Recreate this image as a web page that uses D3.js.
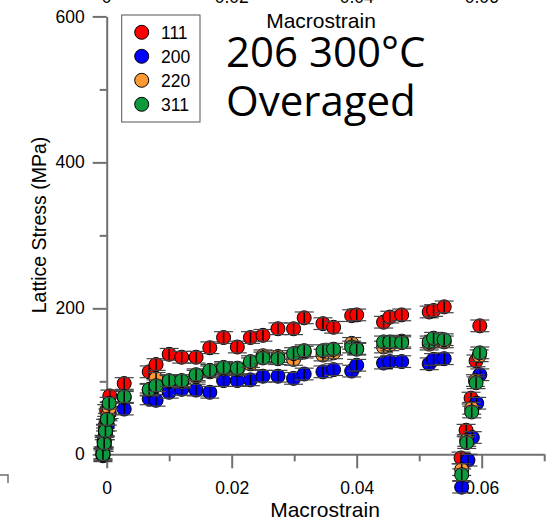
<!DOCTYPE html>
<html>
<head>
<meta charset="utf-8">
<script src="https://cdn.jsdelivr.net/npm/d3@7"></script>
<style>
  body { margin: 0; background: #fff; }
  svg { display: block; font-family: "Liberation Sans", Arial, sans-serif; }
  .axis path, .axis line { stroke: #707070; stroke-width: 2; }
  .axis text { font-size: 17.5px; fill: #000; font-family: "Liberation Sans", Arial, sans-serif; }
</style>
</head>
<body>
<script>
// data
var strain111 = [-0.0006, -0.0004, -0.0002, 0.0000, 0.0005, 0.0028, 0.0068, 0.0079, 0.0100, 0.0120, 0.0143, 0.0165, 0.0187, 0.0209, 0.0230, 0.0250, 0.0274, 0.0299, 0.0316, 0.0346, 0.0363, 0.0392, 0.0400, 0.0443, 0.0453, 0.0472, 0.0516, 0.0523, 0.0540, 0.0597, 0.0591, 0.0583, 0.0575, 0.0567];
var stress111 = [2, 18, 40, 60, 80, 97, 113, 123, 137, 133, 133, 146, 160, 147, 160, 163, 172, 172, 187, 179, 174, 190, 191, 181, 188, 191, 195, 197, 202, 176, 128, 77, 33, -5];

var strain200 = [-0.0006, -0.0004, -0.0002, 0.0001, 0.0004, 0.0028, 0.0068, 0.0079, 0.0100, 0.0120, 0.0143, 0.0165, 0.0187, 0.0209, 0.0230, 0.0250, 0.0274, 0.0299, 0.0316, 0.0346, 0.0363, 0.0392, 0.0400, 0.0443, 0.0453, 0.0472, 0.0516, 0.0523, 0.0540, 0.0597, 0.0592, 0.0585, 0.0578, 0.0568];
var stress200 = [-2, 12, 28, 40, 57, 62, 76, 74, 85, 89, 88, 85, 101, 101, 102, 107, 107, 104, 110, 113, 116, 114, 122, 125, 127, 127, 124, 130, 131, 109, 70, 23, -8, -45];

var strain220 = [-0.0006, -0.0004, -0.0002, 0.0002, 0.0004, 0.0028, 0.0068, 0.0079, 0.0100, 0.0120, 0.0143, 0.0165, 0.0187, 0.0209, 0.0230, 0.0250, 0.0274, 0.0299, 0.0316, 0.0346, 0.0363, 0.0392, 0.0400, 0.0443, 0.0453, 0.0472, 0.0516, 0.0523, 0.0540, 0.0596, 0.0590, 0.0584, 0.0576, 0.0568];
var stress220 = [0, 17, 33, 54, 63, 78, 88, 104, 100, 99, 107, 113, 117, 116, 124, 135, 134, 130, 140, 136, 139, 152, 145, 147, 150, 155, 151, 155, 154, 135, 101, 63, 19, -21];

var strain311 = [-0.0006, -0.0004, -0.0002, 0.0001, 0.0004, 0.0028, 0.0068, 0.0079, 0.0100, 0.0120, 0.0143, 0.0165, 0.0187, 0.0209, 0.0230, 0.0250, 0.0274, 0.0299, 0.0316, 0.0346, 0.0363, 0.0392, 0.0400, 0.0443, 0.0453, 0.0472, 0.0516, 0.0523, 0.0540, 0.0597, 0.0591, 0.0584, 0.0576, 0.0568];
var stress311 = [0, 15, 32, 48, 70, 79, 89, 94, 101, 101, 109, 115, 119, 118, 127, 132, 131, 138, 142, 142, 144, 147, 144, 154, 154, 153, 154, 159, 157, 139, 98, 58, 16, -28];

var stressErr = 8;   // MPa, drawn as vertical bars

var seriesNames = ["111", "200", "220", "311"];
var seriesColors = ["#ff0000", "#0000ff", "#ff9933", "#0d9a3f"];
var seriesStrain = [strain111, strain200, strain220, strain311];
var seriesStress = [stress111, stress200, stress220, stress311];

var xTicks = [0, 0.02, 0.04, 0.06];
var xMinor = [0.01, 0.03, 0.05, 0.07];
var yTicks = [0, 200, 400, 600];
var yMinor = [100, 300, 500];

var width = 547, height = 520;

var svg = d3.select("body").append("svg")
    .attr("width", width)
    .attr("height", height);

var x = d3.scaleLinear().domain([0, 0.07]).range([106.7, 544.2]);
var y = d3.scaleLinear().domain([0, 600]).range([454.3, 16.4]);

var fmtX = function (d) { return d === 0 ? "0" : d.toFixed(2); };

// y axis
svg.append("g").attr("class", "axis")
    .attr("transform", "translate(" + x(0) + ",0)")
    .call(d3.axisLeft(y).tickValues(yTicks).tickSize(14).tickSizeOuter(0).tickPadding(8));
svg.append("g").attr("class", "axis")
    .attr("transform", "translate(" + x(0) + ",0)")
    .call(d3.axisLeft(y).tickValues(yMinor).tickSize(7).tickSizeOuter(0).tickFormat(""))
    .select(".domain").remove();

// x axis
svg.append("g").attr("class", "axis")
    .attr("transform", "translate(0," + y(0) + ")")
    .call(d3.axisBottom(x).tickValues(xTicks).tickSize(14).tickSizeOuter(0).tickPadding(13).tickFormat(fmtX));
svg.append("g").attr("class", "axis")
    .attr("transform", "translate(0," + y(0) + ")")
    .call(d3.axisBottom(x).tickValues(xMinor).tickSize(7).tickSizeOuter(0).tickFormat(""))
    .select(".domain").remove();

// top tick labels, cut off by the picture edge
svg.append("g").selectAll("text")
    .data(xTicks)
    .enter().append("text")
    .attr("x", function (d) { return x(d); })
    .attr("y", 3)
    .attr("text-anchor", "middle")
    .style("font-size", "17.5px")
    .text(fmtX);

// axis titles
svg.append("text")
    .attr("x", 321).attr("y", 28)
    .attr("text-anchor", "middle")
    .style("font-size", "21px")
    .text("Macrostrain");
svg.append("text")
    .attr("x", 325).attr("y", 517)
    .attr("text-anchor", "middle")
    .style("font-size", "21px")
    .text("Macrostrain");
svg.append("text")
    .attr("transform", "translate(46,225) rotate(-90)")
    .attr("text-anchor", "middle")
    .style("font-size", "19.5px")
    .text("Lattice Stress (MPa)");

// stray corner from a neighbouring panel
svg.append("path")
    .attr("d", "M0,475H8V483")
    .attr("fill", "none")
    .attr("stroke", "#707070")
    .attr("stroke-width", 1.5);

// markers
var r = 7, capW = 9.5;
seriesNames.forEach(function (name, k) {
    var pts = seriesStrain[k].map(function (s, i) { return { s: s, v: seriesStress[k][i] }; });
    var g = svg.append("g");
    var pt = g.selectAll("g").data(pts).enter().append("g")
        .attr("transform", function (d) { return "translate(" + x(d.s) + "," + y(d.v) + ")"; });
    pt.append("circle")
        .attr("r", r)
        .attr("fill", seriesColors[k])
        .attr("stroke", "#000")
        .attr("stroke-width", 1);
    var e = y(0) - y(stressErr);
    pt.append("line")
        .attr("x1", 0).attr("x2", 0).attr("y1", -e).attr("y2", e)
        .attr("stroke", "#000").attr("stroke-width", 1.5);
    pt.append("line")
        .attr("x1", -capW).attr("x2", capW).attr("y1", -e).attr("y2", -e)
        .attr("stroke", "#444").attr("stroke-width", 1.2);
    pt.append("line")
        .attr("x1", -capW).attr("x2", capW).attr("y1", e).attr("y2", e)
        .attr("stroke", "#444").attr("stroke-width", 1.2);
});

// legend
var legend = svg.append("g");
legend.append("rect")
    .attr("x", 121.7).attr("y", 15)
    .attr("width", 78.3).attr("height", 107)
    .attr("fill", "#fff")
    .attr("stroke", "#555")
    .attr("stroke-width", 1);
var li = legend.selectAll("g.item").data(seriesNames).enter().append("g")
    .attr("class", "item")
    .attr("transform", function (d, i) { return "translate(0," + (32.3 + i * 24) + ")"; });
li.append("circle")
    .attr("cx", 141.7).attr("r", 7)
    .attr("fill", function (d, i) { return seriesColors[i]; })
    .attr("stroke", "#000");
li.append("text")
    .attr("x", 161).attr("y", 6.5)
    .style("font-size", "17.5px")
    .text(function (d) { return d; });

// annotation
svg.append("text")
    .attr("x", 226).attr("y", 67)
    .style("font-family", "'Open Sans', sans-serif")
    .style("font-size", "42px")
    .text("206 300°C");
svg.append("text")
    .attr("x", 226).attr("y", 116)
    .style("font-family", "'Open Sans', sans-serif")
    .style("font-size", "42px")
    .text("Overaged");
</script>
</body>
</html>
